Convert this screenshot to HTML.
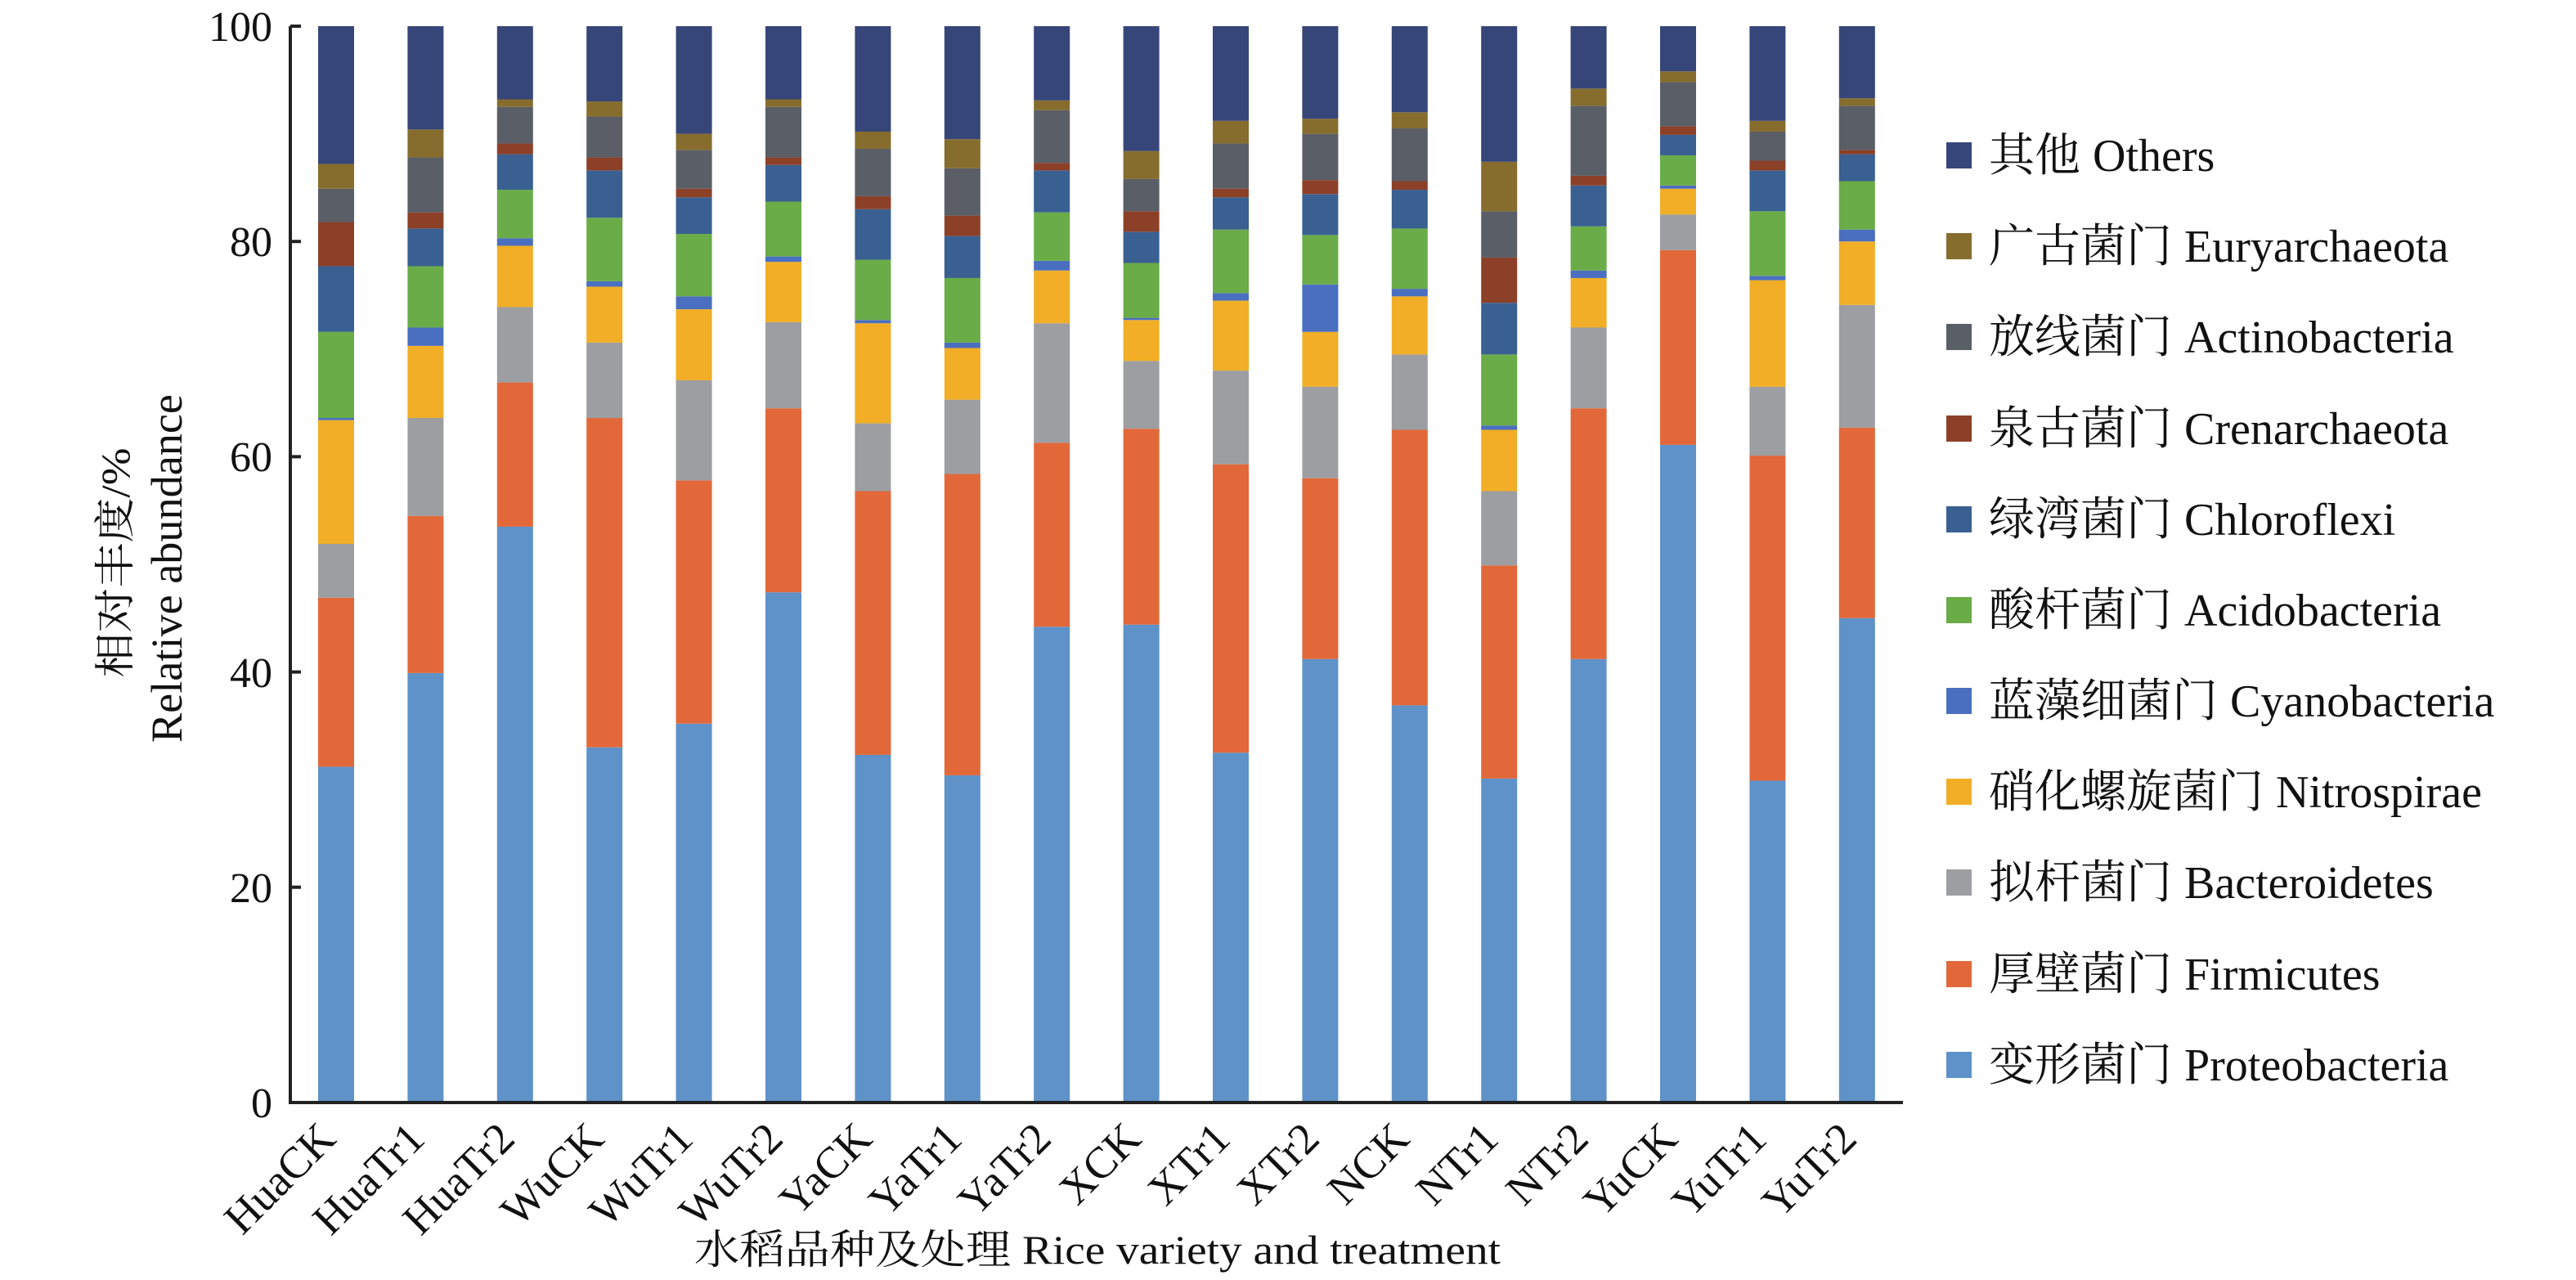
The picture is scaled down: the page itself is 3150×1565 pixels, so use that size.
<!DOCTYPE html>
<html><head><meta charset="utf-8"><style>
html,body{margin:0;padding:0;background:#fff;}
svg{display:block;}
text{font-family:"Liberation Serif","Noto Serif CJK SC",serif;fill:#111;}
</style></head><body>
<svg id="s" width="3150" height="1565" viewBox="0 0 3150 1565" xmlns="http://www.w3.org/2000/svg">
<g id="bars"></g>
<path d="M355,32 V1348 H2327" fill="none" stroke="#222" stroke-width="4"/>
<path d="M355,32 h13 M355,295.2 h13 M355,558.4 h13 M355,821.6 h13 M355,1084.8 h13" stroke="#222" stroke-width="4"/>
<g font-size="52" text-anchor="end">
<text x="333" y="50">100</text>
<text x="333" y="313">80</text>
<text x="333" y="576">60</text>
<text x="333" y="840">40</text>
<text x="333" y="1103">20</text>
<text x="333" y="1366">0</text>
</g>
<text transform="translate(158,688) rotate(-90)" text-anchor="middle" font-size="50" textLength="281" lengthAdjust="spacingAndGlyphs">相对丰度/%</text>
<text transform="translate(222,695) rotate(-90)" text-anchor="middle" font-size="54" textLength="426" lengthAdjust="spacingAndGlyphs">Relative abundance</text>
<g font-size="54" text-anchor="end">
<text transform="translate(413,1395) rotate(-45)">HuaCK</text>
<text transform="translate(522,1395) rotate(-45)">HuaTr1</text>
<text transform="translate(632,1395) rotate(-45)">HuaTr2</text>
<text transform="translate(741,1395) rotate(-45)">WuCK</text>
<text transform="translate(850,1395) rotate(-45)">WuTr1</text>
<text transform="translate(960,1395) rotate(-45)">WuTr2</text>
<text transform="translate(1069,1395) rotate(-45)">YaCK</text>
<text transform="translate(1179,1395) rotate(-45)">YaTr1</text>
<text transform="translate(1288,1395) rotate(-45)">YaTr2</text>
<text transform="translate(1398,1395) rotate(-45)">XCK</text>
<text transform="translate(1507,1395) rotate(-45)">XTr1</text>
<text transform="translate(1616,1395) rotate(-45)">XTr2</text>
<text transform="translate(1726,1395) rotate(-45)">NCK</text>
<text transform="translate(1835,1395) rotate(-45)">NTr1</text>
<text transform="translate(1945,1395) rotate(-45)">NTr2</text>
<text transform="translate(2054,1395) rotate(-45)">YuCK</text>
<text transform="translate(2163,1395) rotate(-45)">YuTr1</text>
<text transform="translate(2273,1395) rotate(-45)">YuTr2</text>
</g>
<text x="849" y="1545" font-size="50" textLength="986" lengthAdjust="spacingAndGlyphs">水稻品种及处理 Rice variety and treatment</text>
<g>
<rect x="2380" y="174" width="31" height="32" fill="#364679"/>
<rect x="2380" y="285" width="31" height="32" fill="#876d2d"/>
<rect x="2380" y="396" width="31" height="32" fill="#5a5e66"/>
<rect x="2380" y="508" width="31" height="32" fill="#8c4028"/>
<rect x="2380" y="619" width="31" height="32" fill="#3a6092"/>
<rect x="2380" y="730" width="31" height="32" fill="#6aac47"/>
<rect x="2380" y="841" width="31" height="32" fill="#4a6fc0"/>
<rect x="2380" y="952" width="31" height="32" fill="#f1ae26"/>
<rect x="2380" y="1063" width="31" height="32" fill="#9c9ea1"/>
<rect x="2380" y="1175" width="31" height="32" fill="#e2683a"/>
<rect x="2380" y="1286" width="31" height="32" fill="#5e92c9"/>
</g>
<g font-size="56" style="font-family:'Noto Serif CJK SC','Noto Sans CJK SC',serif">
<text x="2432" y="209">其他</text>
<text x="2432" y="320">广古菌门</text>
<text x="2432" y="431">放线菌门</text>
<text x="2432" y="543">泉古菌门</text>
<text x="2432" y="654">绿湾菌门</text>
<text x="2432" y="765">酸杆菌门</text>
<text x="2432" y="876">蓝藻细菌门</text>
<text x="2432" y="987">硝化螺旋菌门</text>
<text x="2432" y="1098">拟杆菌门</text>
<text x="2432" y="1210">厚壁菌门</text>
<text x="2432" y="1321">变形菌门</text>
</g>
<g font-size="56">
<text style="font-family:'Liberation Serif',serif" x="2559" y="209">Others</text>
<text style="font-family:'Liberation Serif',serif" x="2671" y="320">Euryarchaeota</text>
<text style="font-family:'Liberation Serif',serif" x="2671" y="431">Actinobacteria</text>
<text style="font-family:'Liberation Serif',serif" x="2671" y="543">Crenarchaeota</text>
<text style="font-family:'Liberation Serif',serif" x="2671" y="654">Chloroflexi</text>
<text style="font-family:'Liberation Serif',serif" x="2671" y="765">Acidobacteria</text>
<text style="font-family:'Liberation Serif',serif" x="2727" y="876">Cyanobacteria</text>
<text style="font-family:'Liberation Serif',serif" x="2783" y="987">Nitrospirae</text>
<text style="font-family:'Liberation Serif',serif" x="2671" y="1098">Bacteroidetes</text>
<text style="font-family:'Liberation Serif',serif" x="2671" y="1210">Firmicutes</text>
<text style="font-family:'Liberation Serif',serif" x="2671" y="1321">Proteobacteria</text>
</g>
</svg>
<script>
var cols=["#5e92c9","#e2683a","#9c9ea1","#f1ae26","#4a6fc0","#6aac47","#3a6092","#8c4028","#5a5e66","#876d2d","#364679"];
var d=[
[31.2,46.9,51.9,63.4,63.6,71.6,77.7,81.8,84.9,87.2],
[39.9,54.5,63.6,70.3,72.0,77.7,81.2,82.7,87.8,90.4],
[53.5,66.9,73.9,79.6,80.3,84.8,88.1,89.1,92.5,93.2],
[33.0,63.6,70.6,75.8,76.3,82.2,86.6,87.8,91.6,93.0],
[35.2,57.8,67.1,73.7,74.9,80.7,84.1,84.9,88.5,90.0],
[47.4,64.5,72.5,78.1,78.6,83.7,87.1,87.8,92.5,93.2],
[32.3,56.8,63.1,72.4,72.7,78.3,83.0,84.2,88.6,90.2],
[30.4,58.4,65.3,70.1,70.6,76.6,80.5,82.4,86.8,89.5],
[44.2,61.3,72.4,77.3,78.2,82.7,86.6,87.3,92.2,93.1],
[44.4,62.6,68.9,72.7,72.9,78.0,80.9,82.8,85.8,88.4],
[32.5,59.3,68.0,74.5,75.2,81.1,84.1,84.9,89.1,91.2],
[41.2,58.0,66.5,71.6,76.0,80.6,84.4,85.7,90.0,91.4],
[36.9,62.5,69.5,74.9,75.6,81.2,84.8,85.6,90.5,92.0],
[30.1,49.9,56.8,62.5,62.9,69.5,74.3,78.5,82.8,87.4],
[41.2,64.5,72.0,76.6,77.3,81.4,85.2,86.1,92.6,94.2],
[61.1,79.2,82.5,84.9,85.2,88.0,89.9,90.7,94.8,95.8],
[29.9,60.1,66.5,76.4,76.8,82.8,86.6,87.5,90.2,91.2],
[45.0,62.7,74.1,80.0,81.1,85.6,88.1,88.5,92.6,93.3]];
var g=document.getElementById("bars"),ns="http://www.w3.org/2000/svg";
function Y(p){return 1348-13.16*p;}
d.forEach(function(r,i){
  var x=389+i*109.4, prev=0, c=r.concat([100]);
  c.forEach(function(v,k){
    var e=document.createElementNS(ns,"rect");
    e.setAttribute("x",x);e.setAttribute("width",44);
    e.setAttribute("y",Y(v));e.setAttribute("height",Math.max(0,Y(prev)-Y(v)));
    e.setAttribute("fill",cols[k]);g.appendChild(e);prev=v;
  });
});
</script>
</body></html>
